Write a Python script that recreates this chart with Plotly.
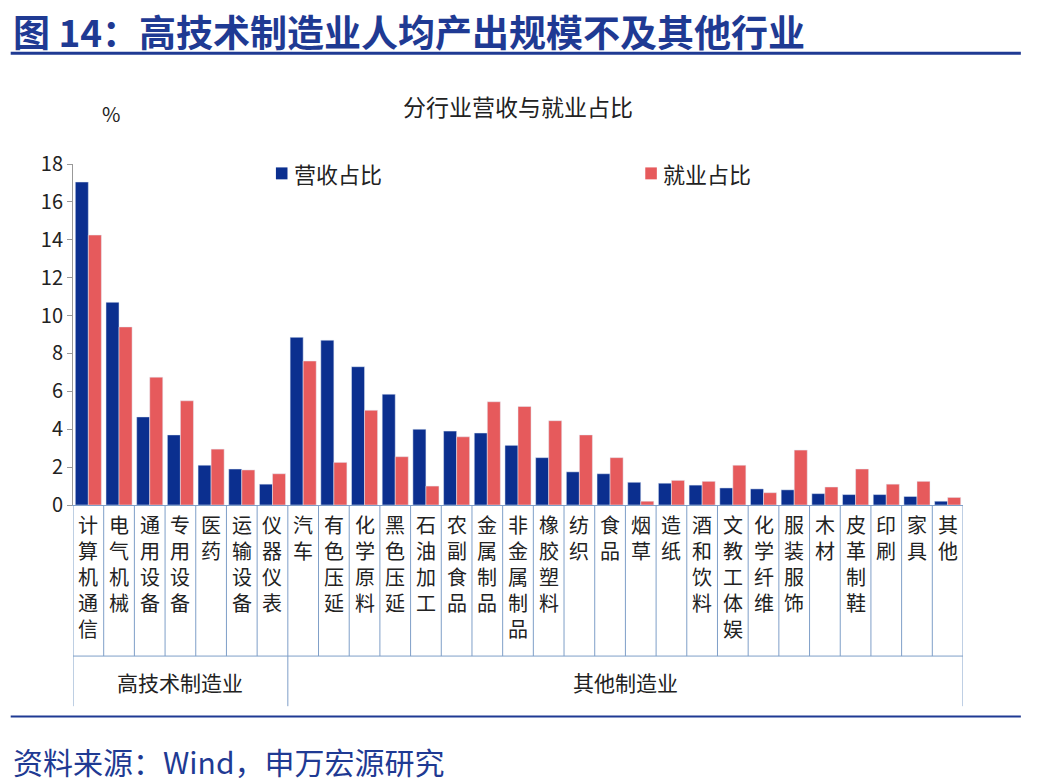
import plotly.graph_objects as go

categories = ["计算机通信", "电气机械", "通用设备", "专用设备", "医药", "运输设备", "仪器仪表",
              "汽车", "有色压延", "化学原料", "黑色压延", "石油加工", "农副食品", "金属制品",
              "非金属制品", "橡胶塑料", "纺织", "食品", "烟草", "造纸", "酒和饮料", "文教工体娱",
              "化学纤维", "服装服饰", "木材", "皮革制鞋", "印刷", "家具", "其他"]
revenue = [17.05, 10.7, 4.65, 3.7, 2.1, 1.9, 1.1, 8.85, 8.7, 7.3, 5.85, 4.0, 3.9, 3.8,
           3.15, 2.5, 1.75, 1.65, 1.2, 1.15, 1.05, 0.9, 0.85, 0.8, 0.6, 0.55, 0.55, 0.45, 0.2]
employment = [14.25, 9.4, 6.75, 5.5, 2.95, 1.85, 1.65, 7.6, 2.25, 5.0, 2.55, 1.0, 3.6, 5.45,
              5.2, 4.45, 3.7, 2.5, 0.2, 1.3, 1.25, 2.1, 0.65, 2.9, 0.95, 1.9, 1.1, 1.25, 0.4]
groups = [("高技术制造业", 0, 6), ("其他制造业", 7, 28)]
series_names = ["营收占比", "就业占比"]

BLUE = "#0B2F8F"
RED = "#E65A5C"
FONT = "Noto Sans CJK SC"
n = len(categories)

fig = go.Figure()
fig.add_bar(x=list(range(n)), y=revenue, name=series_names[0], marker_color=BLUE)
fig.add_bar(x=list(range(n)), y=employment, name=series_names[1], marker_color=RED)

lc = "#7F9FC8"
shapes = []
for i in range(n + 1):
    x = i - 0.5
    is_group = x in (-0.5, 6.5, n - 0.5)
    shapes.append(dict(type="line", xref="x", yref="paper", x0=x, x1=x, y0=0,
                       y1=-0.59 if is_group else -0.443, line=dict(color=lc, width=1)))
shapes.append(dict(type="line", xref="x", yref="paper", x0=-0.5, x1=n - 0.5, y0=-0.443, y1=-0.443,
                   line=dict(color=lc, width=1)))
shapes.append(dict(type="line", xref="paper", yref="paper", x0=-0.07, x1=1.065, y0=1.325, y1=1.325,
                   line=dict(color="#1F3A93", width=3)))
shapes.append(dict(type="line", xref="paper", yref="paper", x0=-0.07, x1=1.065, y0=-0.62, y1=-0.62,
                   line=dict(color="#1F3A93", width=2)))

annotations = []
# manual legend
for k, (name, col, lx) in enumerate([(series_names[0], BLUE, 0.228), (series_names[1], RED, 0.643)]):
    shapes.append(dict(type="rect", xref="paper", yref="paper", x0=lx, x1=lx + 0.013,
                       y0=0.955, y1=0.99, fillcolor=col, line_width=0))
    annotations.append(dict(x=lx + 0.018, y=0.975, xref="paper", yref="paper", text=name,
                            xanchor="left", yanchor="middle", showarrow=False,
                            font=dict(size=22, color="#222")))
for i, c in enumerate(categories):
    annotations.append(dict(x=i, y=-0.01, xref="x", yref="paper", text="<br>".join(c),
                            showarrow=False, yanchor="top", font=dict(size=20, color="#222")))
for name, a, b in groups:
    annotations.append(dict(x=(a + b) / 2, y=-0.52, xref="x", yref="paper", text=name,
                            showarrow=False, yanchor="middle", font=dict(size=21, color="#222")))
annotations += [
    dict(x=-0.07, y=1.39, xref="paper", yref="paper", xanchor="left", yanchor="middle", showarrow=False,
         text="<b>图 14：高技术制造业人均产出规模不及其他行业</b>", font=dict(size=37, color="#1F3A93")),
    dict(x=0.5, y=1.17, xref="paper", yref="paper", showarrow=False, yanchor="middle",
         text="分行业营收与就业占比", font=dict(size=23, color="#222")),
    dict(x=0.03, y=1.148, xref="paper", yref="paper", showarrow=False, yanchor="middle",
         text="%", font=dict(size=20, color="#222")),
    dict(x=-0.07, y=-0.75, xref="paper", yref="paper", xanchor="left", yanchor="middle", showarrow=False,
         text="资料来源：Wind，申万宏源研究", font=dict(size=30, color="#1F3A93")),
]

fig.update_layout(
    width=1042, height=780,
    margin=dict(l=65, r=87, t=156, b=283),
    plot_bgcolor="white", paper_bgcolor="white",
    font=dict(family=FONT, size=18, color="#222"),
    barmode="group", bargap=0.15, bargroupgap=0,
    showlegend=False,
    shapes=shapes, annotations=annotations,
)
fig.update_xaxes(range=[-0.5, n - 0.5], showticklabels=False, showline=True, linecolor=lc,
                 ticks="", showgrid=False, zeroline=False)
fig.update_yaxes(range=[0, 18], dtick=2, showline=True, linecolor="#999", ticks="outside",
                 ticklen=5, tickcolor="#999", showgrid=False, zeroline=False, tickfont=dict(size=20))

fig.write_html("out.html")
